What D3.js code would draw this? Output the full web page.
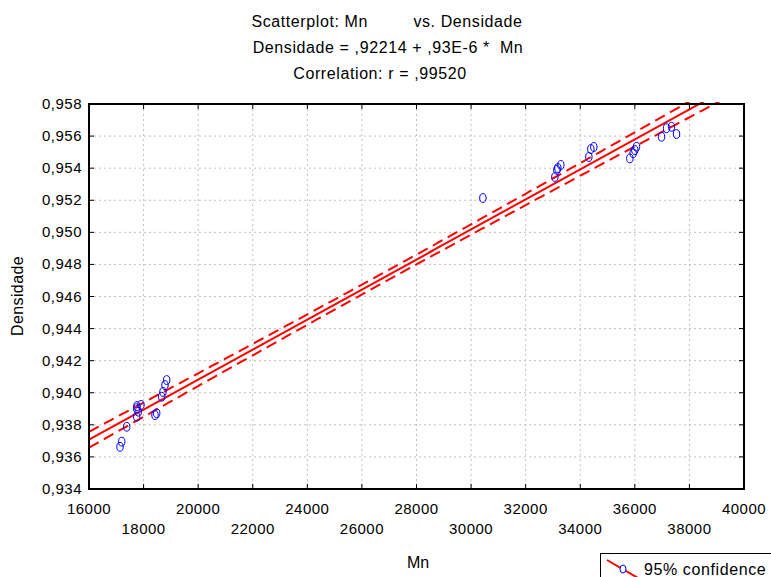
<!DOCTYPE html>
<html>
<head>
<meta charset="utf-8">
<script src="https://cdn.jsdelivr.net/npm/d3@7"></script>
<style>
  body { margin: 0; background: #fff; }
  svg { display: block; font-family: "Liberation Sans", Arial, sans-serif; }
</style>
</head>
<body>
<div id="chart"></div>
<script>
// values
const mn = [17136, 17198, 17381, 17747, 17806, 17747, 17758, 17905, 18418, 18480, 18663, 18711, 18784, 18846,
            30432,
            33070, 33143, 33179, 33289, 34315, 34388, 34498, 35817, 35938, 36000, 36062, 36978, 37161, 37344, 37527];
const densidade = [0.93663, 0.93695, 0.93788, 0.93851, 0.93882, 0.93903, 0.93917, 0.93924, 0.93861, 0.93872, 0.93975, 0.94005, 0.94048, 0.94079,
                   0.95214,
                   0.95345, 0.95389, 0.95401, 0.95420, 0.95470, 0.95519, 0.95532, 0.95461, 0.95493, 0.95513, 0.95534, 0.95596, 0.95649, 0.95658, 0.95613];
const xTicks = [16000, 18000, 20000, 22000, 24000, 26000, 28000, 30000, 32000, 34000, 36000, 38000, 40000];
const yTicks = [0.934, 0.936, 0.938, 0.940, 0.942, 0.944, 0.946, 0.948, 0.950, 0.952, 0.954, 0.956, 0.958];
const titleLines = ["Scatterplot: Mn         vs. Densidade", "Densidade = ,92214 + ,93E-6 *  Mn", "Correlation: r = ,99520"];

const width = 771, height = 577;
const pLeft = 89, pRight = 744, pTop = 104, pBottom = 489;

const svg = d3.select("#chart").append("svg")
    .attr("width", width)
    .attr("height", height);

const x = d3.scaleLinear().domain([16000, 40000]).range([pLeft, pRight]);
const y = d3.scaleLinear().domain([0.934, 0.958]).range([pBottom, pTop]);

const br = d3.formatLocale({decimal: ",", thousands: ".", grouping: [3], currency: ["", ""]});
const fy = br.format(".3f");

// grid
svg.append("g").selectAll("line").data(xTicks.slice(1, -1)).enter().append("line")
    .attr("x1", d => x(d)).attr("x2", d => x(d)).attr("y1", pTop).attr("y2", pBottom)
    .attr("stroke", "#c0c0c0").attr("stroke-dasharray", "2,3");
svg.append("g").selectAll("line").data(yTicks.slice(1, -1)).enter().append("line")
    .attr("y1", d => y(d)).attr("y2", d => y(d)).attr("x1", pLeft).attr("x2", pRight)
    .attr("stroke", "#c0c0c0").attr("stroke-dasharray", "2,3");

// regression + 95% confidence band
const n = mn.length;
const xm = d3.mean(mn), ym = d3.mean(densidade);
let sxx = 0, sxy = 0;
for (let i = 0; i < n; i++) {
    sxx += (mn[i] - xm) ** 2;
    sxy += (mn[i] - xm) * (densidade[i] - ym);
}
const b = sxy / sxx, a = ym - b * xm;
let sse = 0;
for (let i = 0; i < n; i++) sse += (densidade[i] - a - b * mn[i]) ** 2;
const s = Math.sqrt(sse / (n - 2));
const t = 2.048;
const grid = d3.range(16000, 40001, 100);
const band = k => grid.map(v => [v, a + b * v + k * t * s * Math.sqrt(1 / n + (v - xm) ** 2 / sxx)]);

svg.append("clipPath").attr("id", "plot").append("rect")
    .attr("x", pLeft).attr("y", pTop - 2).attr("width", pRight - pLeft).attr("height", pBottom - pTop + 2);

const line = d3.line().x(d => x(d[0])).y(d => y(d[1]));
const lines = svg.append("g").attr("clip-path", "url(#plot)");
lines.append("path").attr("d", line(band(0))).attr("fill", "none").attr("stroke", "#ff0000").attr("stroke-width", 2);
[-1, 1].forEach(k => {
    lines.append("path").attr("d", line(band(k))).attr("fill", "none").attr("stroke", "#ff0000")
        .attr("stroke-width", 2).attr("stroke-dasharray", "11,6");
});

// points
svg.append("g").selectAll("ellipse").data(mn).enter().append("ellipse")
    .attr("cx", (d, i) => x(d)).attr("cy", (d, i) => y(densidade[i]))
    .attr("rx", 3.2).attr("ry", 4.4)
    .attr("fill", "none").attr("stroke", "#0000ff").attr("stroke-width", 1);

// frame
svg.append("rect").attr("x", pLeft).attr("y", pTop).attr("width", pRight - pLeft).attr("height", pBottom - pTop)
    .attr("fill", "none").attr("stroke", "#000").attr("stroke-width", 2);

// ticks (inside, all four sides)
const tk = svg.append("g").attr("stroke", "#000").attr("stroke-width", 1);
xTicks.slice(1, -1).forEach(v => {
    tk.append("line").attr("x1", x(v)).attr("x2", x(v)).attr("y1", pBottom).attr("y2", pBottom - 5);
    tk.append("line").attr("x1", x(v)).attr("x2", x(v)).attr("y1", pTop).attr("y2", pTop + 5);
});
yTicks.slice(1, -1).forEach(v => {
    tk.append("line").attr("y1", y(v)).attr("y2", y(v)).attr("x1", pLeft).attr("x2", pLeft + 5);
    tk.append("line").attr("y1", y(v)).attr("y2", y(v)).attr("x1", pRight).attr("x2", pRight - 5);
});

// tick labels
svg.append("g").selectAll("text").data(yTicks).enter().append("text")
    .attr("x", pLeft - 7).attr("y", d => y(d) + 5)
    .attr("text-anchor", "end").attr("font-size", 15).attr("letter-spacing", 0.5)
    .text(d => fy(d));
svg.append("g").selectAll("text").data(xTicks).enter().append("text")
    .attr("x", d => x(d)).attr("y", (d, i) => i % 2 === 0 ? 514 : 534)
    .attr("text-anchor", "middle").attr("font-size", 15).attr("letter-spacing", 0.5)
    .text(d => d);

// titles
const titleX = [387, 388, 380];
svg.append("g").selectAll("text").data(titleLines).enter().append("text")
    .attr("x", (d, i) => titleX[i]).attr("y", (d, i) => 27 + i * 26)
    .attr("text-anchor", "middle").attr("font-size", 16).attr("letter-spacing", 0.6)
    .style("white-space", "pre")
    .text(d => d);

svg.append("text").attr("x", 418).attr("y", 568).attr("text-anchor", "middle")
    .attr("font-size", 16).text("Mn");
svg.append("text").attr("transform", "translate(23,296) rotate(-90)").attr("text-anchor", "middle")
    .attr("font-size", 16).attr("letter-spacing", 0.4).text("Densidade");

// legend (runs off the page)
const lg = svg.append("g");
lg.append("rect").attr("x", 600.5).attr("y", 553.5).attr("width", 200).attr("height", 40)
    .attr("fill", "#fff").attr("stroke", "#000");
lg.append("line").attr("x1", 607).attr("y1", 560).attr("x2", 638).attr("y2", 578)
    .attr("stroke", "#ff0000").attr("stroke-width", 2);
lg.append("ellipse").attr("cx", 623).attr("cy", 569).attr("rx", 3).attr("ry", 4)
    .attr("fill", "#fff").attr("stroke", "#0000ff");
lg.append("text").attr("x", 644).attr("y", 575).attr("font-size", 16).attr("letter-spacing", 0.6)
    .text("95% confidence");
</script>
</body>
</html>
